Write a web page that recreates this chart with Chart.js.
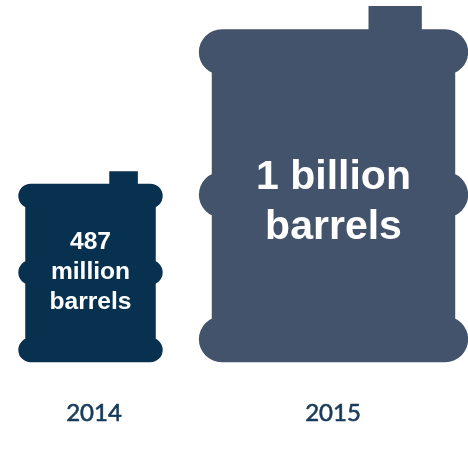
<!DOCTYPE html>
<html>
<head>
<meta charset="utf-8">
<script src="https://cdn.jsdelivr.net/npm/chart.js@4/dist/chart.umd.min.js"></script>
<style>
    html, body { margin: 0; padding: 0; background: #fff; overflow: hidden; }
    canvas { display: block; }
</style>
</head>
<body>
<canvas id="barrelChart" width="468" height="464"></canvas>
<script>
// Oil storage by year, in million barrels
const years = ['2014', '2015'];
const barrels = [487, 1000];
const barrelLabels = [['487', 'million', 'barrels'], ['1 billion', 'barrels']];
const barrelColors = ['#08304F', '#43536B'];

// Draws each bar as a barrel, sized from the bar's top and base pixels
const barrelBars = {
    id: 'barrelBars',
    beforeDatasetDraw(chart, args, opts) {
        const ctx = chart.ctx;
        args.meta.data.forEach((bar, i) => {
            const h = bar.base - bar.y;
            const w = h * 0.756;
            const x = bar.x + opts.shift[i] - w / 2;
            const bodyTop = bar.y + h * 0.065;
            const inset = w * 0.048;
            const hoop = h * 0.129;
            const midY = bar.base - h * 0.47;

            ctx.save();
            ctx.fillStyle = bar.options.backgroundColor;
            ctx.beginPath();
            ctx.rect(x + inset, bodyTop + hoop / 2, w - inset * 2, h - h * 0.065 - hoop);
            ctx.rect(x + w * 0.63, bar.y, w * 0.198, h * 0.075);
            ctx.roundRect(x, bodyTop, w, hoop, hoop / 2);
            ctx.roundRect(x, midY - hoop / 2, w, hoop, hoop / 2);
            ctx.roundRect(x, bar.base - hoop, w, hoop, hoop / 2);
            ctx.fill();

            // value text inside the barrel
            const lines = barrelLabels[i];
            const size = opts.fontSizes[i];
            const lineH = size * 1.21;
            ctx.fillStyle = '#fff';
            ctx.font = 'bold ' + size + 'px "Liberation Sans"';
            ctx.textAlign = 'center';
            ctx.textBaseline = 'alphabetic';
            const first = midY + opts.textOffsets[i] - lineH * (lines.length - 1) / 2;
            lines.forEach((line, n) => {
                ctx.fillText(line, x + w / 2, first + lineH * n);
            });
            ctx.restore();
        });
        return false;
    }
};

const ctx = document.getElementById('barrelChart').getContext('2d');
const barrelChart = new Chart(ctx, {
    type: 'bar',
    data: {
        labels: years,
        datasets: [{
            label: 'Barrels',
            data: barrels,
            backgroundColor: barrelColors
        }]
    },
    options: {
        responsive: false,
        animation: false,
        layout: {
            padding: { left: 94, right: 135, top: 6, bottom: 7 }
        },
        scales: {
            x: {
                offset: false,
                border: { display: false },
                grid: { display: false },
                ticks: {
                    color: '#173A59',
                    textStrokeColor: '#173A59',
                    textStrokeWidth: 0.6,
                    font: { family: 'Lato', size: 24 },
                    padding: 29,
                    autoSkip: false,
                    maxRotation: 0
                }
            },
            y: {
                type: 'logarithmic',
                display: false,
                min: 212,
                max: 1000
            }
        },
        plugins: {
            legend: { display: false },
            tooltip: { enabled: false },
            barrelBars: {
                shift: [-3.5, 0.5],
                fontSizes: [24.6, 41],
                textOffsets: [6.5, 19.5]
            }
        }
    },
    plugins: [barrelBars]
});
</script>
</body>
</html>
